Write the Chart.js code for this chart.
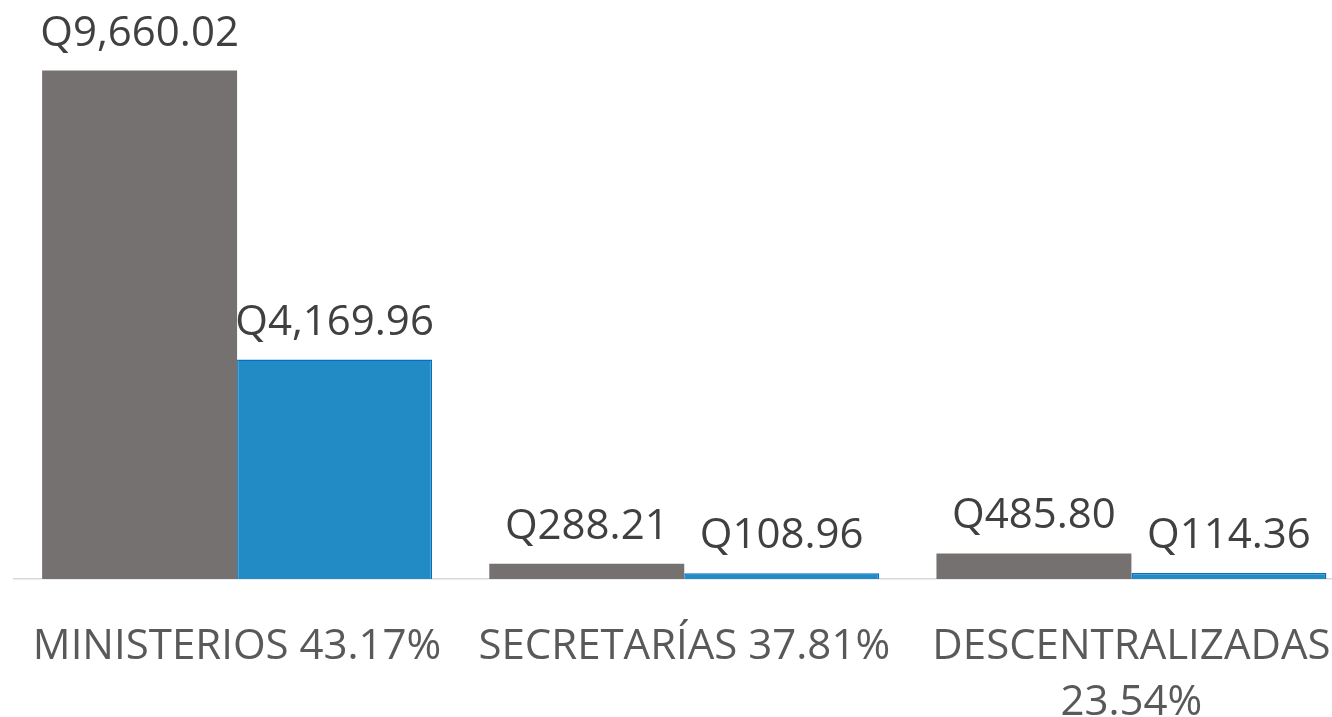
<!DOCTYPE html>
<html>
<head>
<meta charset="utf-8">
<script src="https://cdn.jsdelivr.net/npm/chart.js@4/dist/chart.umd.min.js"></script>
<style>
  html, body { margin: 0; padding: 0; background: #fff; overflow: hidden; }
  #wrap { width: 1355px; height: 717px; position: relative; }
</style>
</head>
<body>
<div id="wrap"><canvas id="presChart"></canvas></div>
<script>
// categorías y montos (millones de quetzales)
const categorias = ['MINISTERIOS 43.17%', 'SECRETARÍAS 37.81%', ['DESCENTRALIZADAS', '23.54%']];
const asignado = [9660.02, 288.21, 485.80];
const ejecutado = [4169.96, 108.96, 114.36];

const fuente = "'Open Sans', sans-serif";

// etiquetas encima de cada barra
const etiquetas = {
    id: 'etiquetas',
    afterDatasetsDraw(chart) {
        const ctx = chart.ctx;
        ctx.save();
        ctx.font = '42px ' + fuente;
        ctx.fillStyle = '#404040';
        ctx.textAlign = 'center';
        ctx.textBaseline = 'alphabetic';
        chart.data.datasets.forEach((ds, i) => {
            chart.getDatasetMeta(i).data.forEach((bar, j) => {
                const txt = 'Q' + ds.data[j].toLocaleString('en-US', { minimumFractionDigits: 2, maximumFractionDigits: 2 });
                ctx.fillText(txt, bar.x, bar.y - 25);
            });
        });
        ctx.restore();
    }
};

new Chart(document.getElementById('presChart'), {
    type: 'bar',
    data: {
        labels: categorias,
        datasets: [
            {
                label: 'Asignado',
                data: asignado,
                backgroundColor: '#767171',
                borderWidth: 0
            },
            {
                label: 'Ejecutado',
                data: ejecutado,
                backgroundColor: '#228AC4',
                borderColor: '#0070C0',
                borderWidth: 1.5,
                borderSkipped: 'bottom'
            }
        ]
    },
    options: {
        responsive: true,
        maintainAspectRatio: false,
        animation: false,
        layout: { padding: { left: 13.5, right: 0, top: 0, bottom: 0 } },
        plugins: {
            legend: { display: false },
            tooltip: { enabled: false }
        },
        datasets: {
            bar: { categoryPercentage: 0.872, barPercentage: 1 }
        },
        scales: {
            x: {
                grid: { display: false },
                border: { display: true, color: '#D9D9D9', width: 1.5 },
                ticks: {
                    color: '#595959',
                    font: { family: fuente, size: 42, lineHeight: 1.34 },
                    padding: 32,
                    maxRotation: 0,
                    autoSkip: false
                },
                afterFit(scale) {
                    scale.height = 138;
                    scale.paddingLeft = 0;
                    scale.paddingRight = 0;
                }
            },
            y: {
                display: false,
                min: 0,
                max: 11000
            }
        }
    },
    plugins: [etiquetas]
});
</script>
</body>
</html>
